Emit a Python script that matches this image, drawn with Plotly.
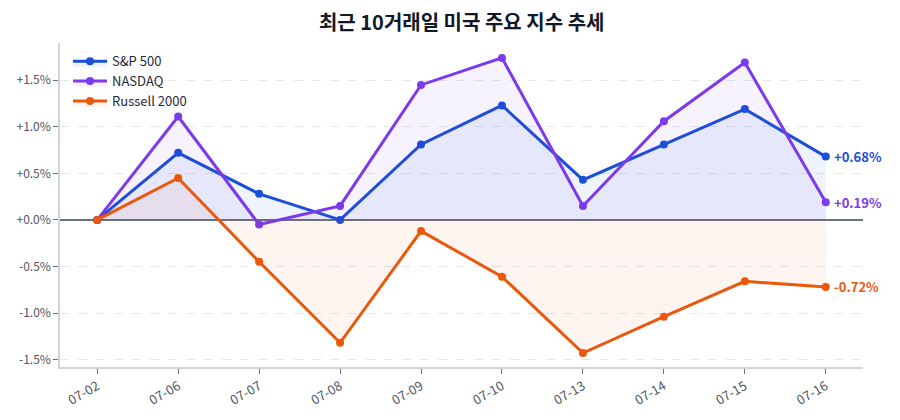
import plotly.graph_objects as go

dates = ["07-02", "07-06", "07-07", "07-08", "07-09", "07-10", "07-13", "07-14", "07-15", "07-16"]
sp500 = [0.00, 0.72, 0.28, 0.00, 0.81, 1.23, 0.43, 0.81, 1.19, 0.68]
nasdaq = [0.00, 1.11, -0.05, 0.15, 1.45, 1.74, 0.15, 1.06, 1.69, 0.19]
russell = [0.00, 0.45, -0.45, -1.32, -0.12, -0.61, -1.43, -1.04, -0.66, -0.72]
series_names = ["S&P 500", "NASDAQ", "Russell 2000"]
y_tickvals = [-1.5, -1.0, -0.5, 0.0, 0.5, 1.0, 1.5]
y_ticktext = ["-1.5%", "-1.0%", "-0.5%", "+0.0%", "+0.5%", "+1.0%", "+1.5%"]
title = "최근 10거래일 미국 주요 지수 추세"

FONT = "Noto Sans CJK KR"
colors = ["#1a4fd8", "#7c3aed", "#ea580c"]
fills = ["rgba(26,79,216,0.07)", "rgba(124,58,237,0.06)", "rgba(234,88,12,0.06)"]

fig = go.Figure()
for name, vals, c, f in zip(series_names, [sp500, nasdaq, russell], colors, fills):
    fig.add_trace(go.Scatter(
        x=dates, y=vals, name=name, mode="lines+markers",
        line=dict(color=c, width=3), marker=dict(color=c, size=8),
        fill="tozeroy", fillcolor=f,
    ))
    last = vals[-1]
    fig.add_annotation(
        x=dates[-1], y=last, text=("+" if last >= 0 else "") + f"{last:.2f}%",
        showarrow=False, xanchor="left", xshift=6,
        font=dict(family=FONT, size=13, color=c, weight="bold"),
    )

fig.update_layout(
    width=900, height=420,
    margin=dict(l=60, r=37, t=43, b=53),
    paper_bgcolor="white", plot_bgcolor="white",
    font=dict(family=FONT, size=12, color="#4b5563"),
    title=dict(text=title, x=0.513, xanchor="center", y=0.945, yanchor="middle",
               font=dict(family=FONT, size=20, color="#111827", weight="bold")),
    legend=dict(x=0.01, y=0.99, xanchor="left", yanchor="top",
                bgcolor="rgba(255,255,255,0)", font=dict(family=FONT, size=13, color="#1f2937"),
                tracegroupgap=0, itemwidth=34),
    showlegend=True,
)
fig.update_xaxes(
    type="category", range=[-0.46, 9.46],
    showgrid=False, showline=True, linecolor="#d1d5db", linewidth=1.5,
    ticks="outside", ticklen=5, tickcolor="#6b7280", tickangle=-30,
    tickfont=dict(size=13, color="#4b5563"),
)
fig.update_yaxes(
    range=[-1.58, 1.90],
    tickvals=y_tickvals, ticktext=y_ticktext,
    showgrid=True, gridcolor="#e5e7eb", griddash="dash", gridwidth=1,
    zeroline=True, zerolinecolor="#6b7280", zerolinewidth=1.5,
    showline=True, linecolor="#d1d5db", linewidth=1.5,
    ticks="outside", ticklen=5, tickcolor="#6b7280",
    tickfont=dict(size=12, color="#4b5563"),
)

fig.write_html("out.html")
